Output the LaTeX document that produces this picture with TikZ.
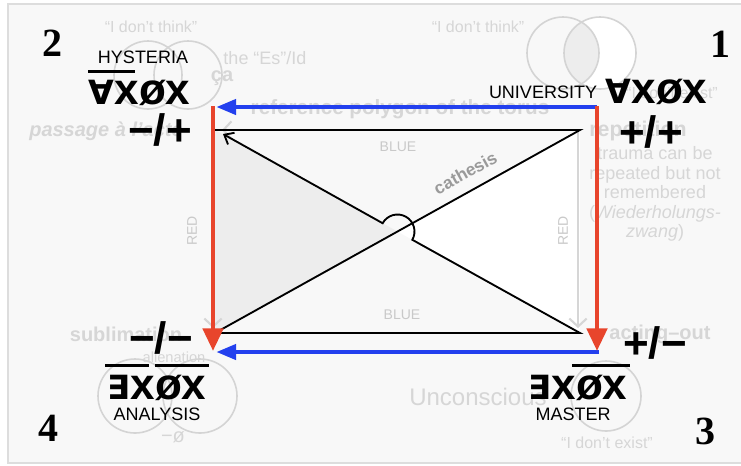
\documentclass[tikz,border=0pt]{standalone}
\usepackage{fontspec}
\setmainfont{Liberation Sans}
\newfontfamily\quantfont{DejaVu Sans}
\newfontfamily\digitfont{Liberation Serif}
\usepackage{tikz}
\usetikzlibrary{arrows.meta,positioning,calc}
\definecolor{paper}{HTML}{F8F8F8}
\definecolor{framegray}{HTML}{DDDDDD}
\definecolor{ghost}{HTML}{D6D6D6}
\definecolor{ringgray}{HTML}{D4D4D4}
\definecolor{tagcolour}{HTML}{C9C9C9}
\definecolor{cathgray}{HTML}{9A9A9A}
\definecolor{shadegray}{HTML}{EDEDED}
\definecolor{polyred}{HTML}{E8452C}
\definecolor{polyblue}{HTML}{2340EE}

\begin{document}
\begin{tikzpicture}[x=0.75pt,y=-0.75pt,
  caption/.style={font=\fontsize{13.5}{16}\selectfont,inner sep=0pt},
  formula/.style={font=\fontsize{33}{36}\selectfont\bfseries,inner sep=0pt,anchor=base west},
  sign/.style={font=\fontsize{33}{36}\selectfont\bfseries,inner sep=0pt},
  corner/.style={font=\digitfont\fontsize{30}{34}\selectfont\bfseries,inner sep=0pt},
  ghosttext/.style={text=ghost,inner sep=0pt,font=\fontsize{12}{14}\selectfont},
  ghostbold/.style={text=ghost,inner sep=0pt,font=\fontsize{15}{18}\selectfont\bfseries},
  ring/.style={draw=ringgray,line width=1.2pt},
  tag/.style={text=tagcolour,inner sep=0pt,font=\fontsize{10.5}{12}\selectfont},
  bar/.style={line width=2.4pt},
  redline/.style={polyred,line width=3.6pt,-{Triangle[length=17pt,width=15pt]}},
  blueline/.style={polyblue,line width=3.6pt,-{Triangle[length=15pt,width=11pt]}},
  ghostarrow/.style={draw=ghost,line width=1.6pt,-{Straight Barb[length=6pt,width=13pt]}},
  flow/.style={line width=1.4pt,-{Straight Barb[length=6pt,width=10pt]}},
]
  \useasboundingbox (0,0) rectangle (741,465);
  \fill[paper] (8,4) rectangle (741,463);
  \draw[framegray,line width=0.9pt] (741,4) -- (8,4) -- (8,463) -- (741,463);

  % faint rings
  \fill[white] (600,53) circle (36);
  \begin{scope}
    \clip (563,53) circle (36);
    \fill[shadegray] (600,53) circle (36);
  \end{scope}
  \draw[ring] (563,53) circle (36);
  \draw[ring] (600,53) circle (36);
  \draw[ring] (148,75) circle (34);
  \draw[ring] (188,75) circle (34);
  \draw[ring] (135,396) circle (37);
  \draw[ring] (200,396) circle (37);
  \draw[ring] (606,396) circle (35);

  % faint words
  \node[ghosttext] (thinkl) at (151,27) {“I don’t think”};
  \node[ghosttext] (thinkr) at (478,27) {“I don’t think”};
  \node[ghosttext,font=\fontsize{13.5}{16}\selectfont] (esid) at (265,58) {the “Es”/Id};
  \node[ghostbold] (ca) at (222,78) {ça};
  \node[ghostbold,font=\fontsize{15}{18}\selectfont\bfseries\itshape] (passage) at (106,131) {passage à l’acte};
  \node[ghostbold,font=\fontsize{15.5}{18}\selectfont\bfseries] (torus) at (400,109) {reference polygon of the torus};
  \node[ghosttext] (existr) at (672,93) {“I don’t exist”};
  \node[ghostbold,font=\fontsize{16}{18}\selectfont\bfseries] (repet) at (638,131) {repetition};
  \node[ghosttext,font=\fontsize{13.5}{14.6}\selectfont,align=center] (trauma) at (655,194)
    {trauma can be\\repeated but not\\remembered\\(\textit{Wiederholungs-}\\\textit{zwang})};
  \node[ghostbold] (sublim) at (126,334) {sublimation};
  \node[ghosttext,font=\fontsize{11}{13}\selectfont] (alien) at (174,357) {alienation};
  \node[ghostbold] (acting) at (660,334) {acting–out};
  \node[ghosttext,font=\fontsize{18}{20}\selectfont] (uncon) at (478,397) {Unconscious};
  \node[ghosttext] (existb) at (607,443) {“I don’t exist”};
  \node[ghosttext,font=\fontsize{15}{18}\selectfont] (lack) at (173,437) {−ø};

  % polygon corners
  \coordinate (tl) at (215,130);
  \coordinate (tr) at (580,130);
  \coordinate (bl) at (215,333);
  \coordinate (br) at (580,333);
  \coordinate (cross) at ($(tl)!0.5!(br)$);
  \coordinate (tip) at (223,134);
  \coordinate (ptl) at (213,107);
  \coordinate (ptr) at (597,107);
  \coordinate (pbl) at (213,351);
  \coordinate (pbr) at (597,351);

  \fill[shadegray] (tl) -- (cross) -- (bl) -- cycle;
  \fill[white] (tr) -- (cross) -- (br) -- cycle;
  \draw[ghostarrow] (tr) -- (222,130);
  \draw[ghostarrow] (578,130) -- (578,328);
  \draw[ghostarrow] (213,130) -- (213,328);

  \node[tag] (bluet) at (398,147) {BLUE};
  \node[tag] (blueb) at (402,315) {BLUE};
  \node[tag,rotate=90] (redl) at (192,231) {RED};
  \node[tag,rotate=90] (redr) at (563,231) {RED};

  \draw[flow,line join=miter] (tl) -- (tr)
    -- node[pos=0.29,sloped,above=5pt,text=cathgray,font=\fontsize{13}{15}\selectfont\bfseries] (cath) {cathesis} (bl)
    -- (br) -- ($(cross)+(14.84,8.28)$)
    arc[start angle=29.15,end angle=-150.85,radius=17] -- (tip);

  \draw[blueline] (ptr) -- ($(ptl)+(3,0)$);
  \draw[blueline] ($(pbr)+(2,1)$) -- ($(pbl)+(3,1)$);
  \draw[redline] ($(ptl)+(0,-1)$) -- (pbl);
  \draw[redline] ($(ptr)+(0,-1)$) -- (pbr);

  % corner numbers
  \node[corner] (n2) at (52,43) {2};
  \node[corner] (n1) at (720,44) {1};
  \node[corner] (n4) at (48,428) {4};
  \node[corner] (n3) at (705,431) {3};

  % hysteria
  \node[caption] (hyst) at (143,57) {HYSTERIA};
  \node[formula] (hystq) at (88,104) {{\quantfont\fontsize{25}{28}\selectfont\bfseries ∀}x};
  \node[formula] (hystf) at (hystq.base east) {øx};
  \draw[bar] ([yshift=6pt]hystq.north west) -- ([yshift=6pt,xshift=-3pt]hystq.north east);
  \node[sign] (hystsign) at (160,130) {−/+};

  % university
  \node[caption] (univ) at (543,92) {UNIVERSITY};
  \node[formula] (univq) at (605,103) {{\quantfont\fontsize{25}{28}\selectfont\bfseries ∀}x};
  \node[formula] (univf) at (univq.base east) {øx};
  \node[sign] (univsign) at (651,132) {+/+};

  % analysis
  \node[formula] (analq) at (107,399) {{\quantfont\fontsize{25}{28}\selectfont\bfseries ∃}x};
  \node[formula] (analf) at (analq.base east) {øx};
  \draw[bar] ([yshift=6.5pt,xshift=-1.5pt]analq.north west) -- ([yshift=6.5pt,xshift=-4pt]analq.north east);
  \draw[bar] ([yshift=6.5pt]analf.north west) -- ([yshift=6.5pt,xshift=2pt]analf.north east);
  \node[caption] (anal) at (157,414) {ANALYSIS};
  \node[sign] (analsign) at (161,338) {−/−};

  % master
  \node[formula] (mastq) at (528,399) {{\quantfont\fontsize{25}{28}\selectfont\bfseries ∃}x};
  \node[formula] (mastf) at (mastq.base east) {øx};
  \draw[bar] ([yshift=6.5pt,xshift=-3pt]mastf.north west) -- ([yshift=6.5pt,xshift=1.5pt]mastf.north east);
  \node[caption] (mast) at (573,414) {MASTER};
  \node[sign] (mastsign) at (655,343) {+/−};
\end{tikzpicture}
\end{document}
